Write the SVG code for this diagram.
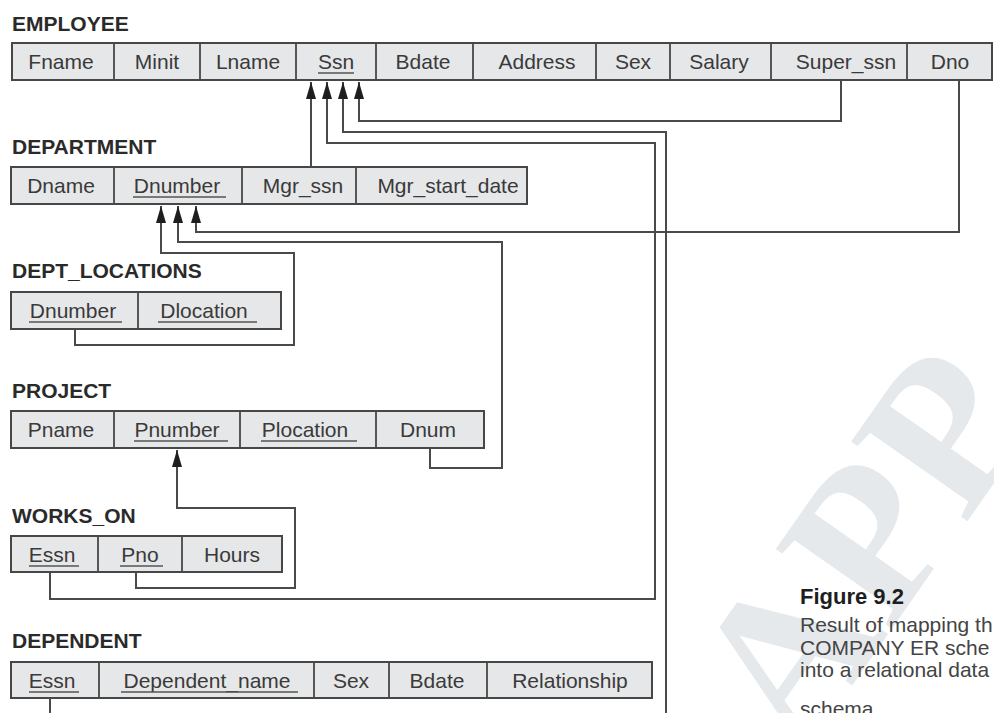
<svg xmlns="http://www.w3.org/2000/svg" width="994" height="713" viewBox="0 0 994 713">
<style>
.box{fill:#e6e7e8;stroke:#474747;stroke-width:2}
.dv{stroke:#474747;stroke-width:1.8}
.c{font-family:"Liberation Sans",Arial,sans-serif;font-size:21px;fill:#3a3a3a;text-anchor:middle}
.ttl{font-family:"Liberation Sans",Arial,sans-serif;font-size:21px;font-weight:bold;fill:#2a2a2a}
.ul{stroke:#555;stroke-width:1.5}
.conn path{fill:none;stroke:#4a4a4a;stroke-width:2}
.cap{font-family:"Liberation Sans",Arial,sans-serif;font-size:21px;fill:#444}
</style>
<defs>
<marker id="ah" markerUnits="userSpaceOnUse" viewBox="0 0 17 10" markerWidth="17" markerHeight="10" refX="17" refY="5" orient="auto">
<path d="M0,0 L17,5 L0,10 z" fill="#1e1e1e"/>
</marker>
</defs>
<rect width="994" height="713" fill="#fff"/>
<g id="watermark">
<text transform="translate(800,760) rotate(-55)" font-family="Liberation Serif,serif" font-size="215" font-weight="bold" fill="#e6e9ec">APP</text>
</g>

<g id="employee">
<text class="ttl" x="12" y="31">EMPLOYEE</text>
<rect class="box" x="12" y="43" width="980" height="37"/>
<line class="dv" x1="114" y1="43" x2="114" y2="80"/>
<line class="dv" x1="200" y1="43" x2="200" y2="80"/>
<line class="dv" x1="296" y1="43" x2="296" y2="80"/>
<line class="dv" x1="376" y1="43" x2="376" y2="80"/>
<line class="dv" x1="473" y1="43" x2="473" y2="80"/>
<line class="dv" x1="596" y1="43" x2="596" y2="80"/>
<line class="dv" x1="670" y1="43" x2="670" y2="80"/>
<line class="dv" x1="771" y1="43" x2="771" y2="80"/>
<line class="dv" x1="907" y1="43" x2="907" y2="80"/>
<text class="c" x="61" y="69">Fname</text>
<text class="c" x="157" y="69">Minit</text>
<text class="c" x="248" y="69">Lname</text>
<text class="c" x="336" y="69">Ssn</text>
<line class="ul" x1="318" y1="73" x2="354" y2="73"/>
<text class="c" x="423" y="69">Bdate</text>
<text class="c" x="537" y="69">Address</text>
<text class="c" x="633" y="69">Sex</text>
<text class="c" x="719" y="69">Salary</text>
<text class="c" x="846" y="69">Super_ssn</text>
<text class="c" x="950" y="69">Dno</text>
</g>

<g id="department">
<text class="ttl" x="12" y="154">DEPARTMENT</text>
<rect class="box" x="11" y="167" width="516" height="37"/>
<line class="dv" x1="114" y1="167" x2="114" y2="204"/>
<line class="dv" x1="242" y1="167" x2="242" y2="204"/>
<line class="dv" x1="356" y1="167" x2="356" y2="204"/>
<text class="c" x="61" y="193">Dname</text>
<text class="c" x="177" y="193">Dnumber</text>
<line class="ul" x1="133" y1="197" x2="226" y2="197"/>
<text class="c" x="303" y="193">Mgr_ssn</text>
<text class="c" x="448" y="193">Mgr_start_date</text>
</g>

<g id="dept_locations">
<text class="ttl" x="12" y="278">DEPT_LOCATIONS</text>
<rect class="box" x="11" y="292" width="270" height="37"/>
<line class="dv" x1="138" y1="292" x2="138" y2="329"/>
<text class="c" x="73" y="318">Dnumber</text>
<line class="ul" x1="29" y1="322" x2="122" y2="322"/>
<text class="c" x="204" y="318">Dlocation</text>
<line class="ul" x1="158" y1="322" x2="257" y2="322"/>
</g>

<g id="project">
<text class="ttl" x="12" y="398">PROJECT</text>
<rect class="box" x="11" y="411" width="473" height="37"/>
<line class="dv" x1="114" y1="411" x2="114" y2="448"/>
<line class="dv" x1="240" y1="411" x2="240" y2="448"/>
<line class="dv" x1="376" y1="411" x2="376" y2="448"/>
<text class="c" x="61" y="437">Pname</text>
<text class="c" x="177" y="437">Pnumber</text>
<line class="ul" x1="134" y1="441" x2="228" y2="441"/>
<text class="c" x="305" y="437">Plocation</text>
<line class="ul" x1="261" y1="441" x2="357" y2="441"/>
<text class="c" x="428" y="437">Dnum</text>
</g>

<g id="works_on">
<text class="ttl" x="12" y="523">WORKS_ON</text>
<rect class="box" x="11" y="536" width="271" height="36"/>
<line class="dv" x1="98" y1="536" x2="98" y2="572"/>
<line class="dv" x1="182" y1="536" x2="182" y2="572"/>
<text class="c" x="52" y="562">Essn</text>
<line class="ul" x1="29" y1="566" x2="79" y2="566"/>
<text class="c" x="140" y="562">Pno</text>
<line class="ul" x1="120" y1="566" x2="163" y2="566"/>
<text class="c" x="232" y="562">Hours</text>
</g>

<g id="dependent">
<text class="ttl" x="12" y="648">DEPENDENT</text>
<rect class="box" x="11" y="662" width="641" height="36"/>
<line class="dv" x1="99" y1="662" x2="99" y2="698"/>
<line class="dv" x1="314" y1="662" x2="314" y2="698"/>
<line class="dv" x1="389" y1="662" x2="389" y2="698"/>
<line class="dv" x1="487" y1="662" x2="487" y2="698"/>
<text class="c" x="52" y="688">Essn</text>
<line class="ul" x1="29" y1="692" x2="79" y2="692"/>
<text class="c" x="207" y="688">Dependent_name</text>
<line class="ul" x1="121" y1="692" x2="298" y2="692"/>
<text class="c" x="351" y="688">Sex</text>
<text class="c" x="437" y="688">Bdate</text>
<text class="c" x="570" y="688">Relationship</text>
</g>

<g id="connectors" class="conn">
<path d="M841,81 V121 H359 V82" marker-end="url(#ah)"/>
<path d="M666,713 V132 H343 V82" marker-end="url(#ah)"/>
<path d="M50,573 V599 H655 V143 H327 V82" marker-end="url(#ah)"/>
<path d="M311,167 V82" marker-end="url(#ah)"/>
<path d="M959,81 V232 H196 V206" marker-end="url(#ah)"/>
<path d="M430,449 V468 H502 V242 H178 V206" marker-end="url(#ah)"/>
<path d="M75,330 V345 H294 V253 H161 V206" marker-end="url(#ah)"/>
<path d="M136,573 V588 H295 V508 H177 V450" marker-end="url(#ah)"/>
<path d="M50,699 V713"/>
</g>

<g id="caption">
<text x="800" y="604" font-family="Liberation Sans,Arial,sans-serif" font-size="22" font-weight="bold" fill="#1e1e1e">Figure 9.2</text>
<text class="cap" x="800" y="632">Result of mapping th</text>
<text class="cap" x="800" y="655">COMPANY ER sche</text>
<text class="cap" x="800" y="677">into a relational data</text>
<text class="cap" x="800" y="716">schema.</text>
</g>
</svg>
